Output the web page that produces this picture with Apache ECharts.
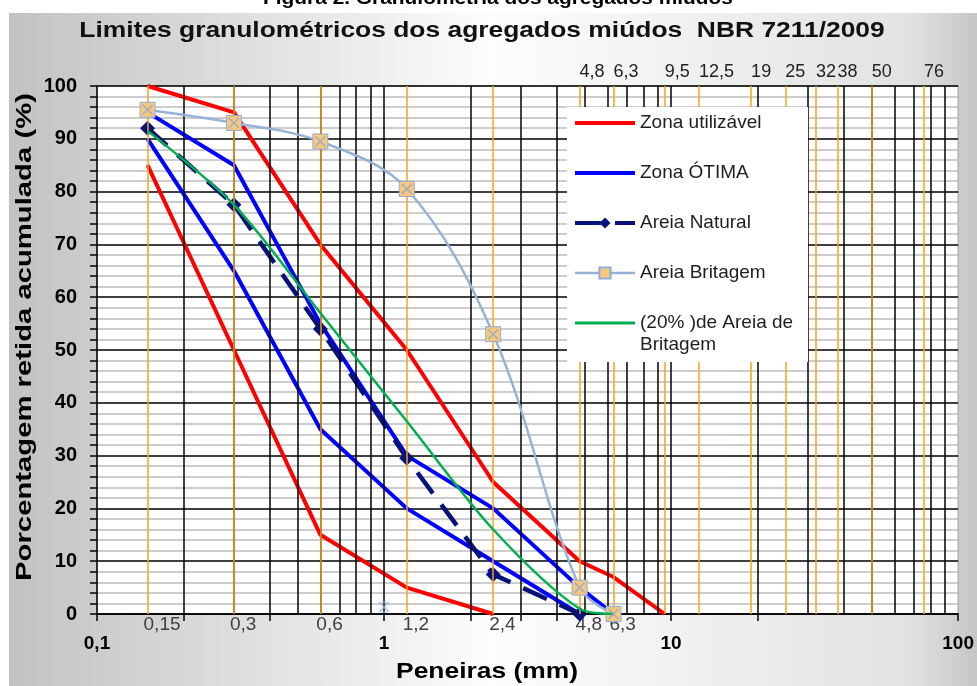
<!DOCTYPE html>
<html lang="pt-BR">
<head>
<meta charset="utf-8">
<title>Limites granulométricos dos agregados miúdos</title>
<script src="https://cdn.jsdelivr.net/npm/echarts@6/dist/echarts.min.js"></script>
<style>
  html, body { margin: 0; padding: 0; background: #fff; }
  #grafico { width: 977px; height: 686px; }
</style>
</head>
<body>
<div id="grafico"></div>
<script>
// Aberturas das peneiras (mm)
const peneiras = [0.15, 0.3, 0.6, 1.2, 2.4, 4.8, 6.3, 9.5];

// Limites da NBR 7211 (% retida acumulada), na ordem das peneiras
const utilInferior = [85, 50, 15, 5, 0];
const utilSuperior = [100, 95, 70, 50, 25, 10, 7, 0];
const otimaInferior = [90, 65, 35, 20, 10, 0];
const otimaSuperior = [95, 85, 55, 30, 20, 5, 0];

// Curvas granulométricas ensaiadas
const areiaNatural = [92, 77.5, 54, 29.5, 7.5, 0];
const areiaBritagem = [95.5, 93, 89.5, 80.5, 53, 5, 0];
const mistura20 = [91.5, 77.5, 57, 36.5, 16, 1, 0];

// Ponto isolado em 1 mm
const pontoAvulsoX = [1];
const pontoAvulsoY = [1.3];

// Linhas verticais da grade logarítmica e das peneiras
const divisoesLog = [0.2, 0.3, 0.4, 0.5, 0.6, 0.7, 0.8, 0.9, 1,
                     2, 3, 4, 5, 6, 7, 8, 9, 10,
                     20, 30, 40, 50, 60, 70, 80, 90];
const linhasPeneiras = [0.15, 0.3, 0.6, 1.2, 2.4, 4.8, 6.3, 9.5, 12.5, 19, 25, 32, 38, 50, 76];

// Rótulos dos eixos
const rotulosDecadas = [0.1, 1, 10, 100];
const rotulosBase = [0.15, 0.3, 0.6, 1.2, 2.4, 4.8, 6.3];
const rotulosTopo = [4.8, 6.3, 9.5, 12.5, 19, 25, 32, 38, 50, 76];
const marcasBase = [0.1, 0.2, 0.4, 1, 2, 3, 4, 10, 20, 100];

// Nomes das séries na legenda
const NOME_UTIL = 'Zona utilizável';
const NOME_OTIMA = 'Zona ÓTIMA';
const NOME_NATURAL = 'Areia Natural';
const NOME_BRITAGEM = 'Areia Britagem';
const NOME_MISTURA = '(20% )de Areia de\nBritagem';

const pares = (xs, ys) => ys.map((y, i) => [xs[i], y]);
const virgula = v => String(v).replace('.', ',');

const FONTE = 'Liberation Sans, Arial, sans-serif';
const VERMELHO = '#ff0000';
const AZUL = '#0000ff';
const MARINHO = '#07127a';
const AZUL_CLARO = '#95b3d7';
const VERDE = '#00b050';
const LARANJA = '#f7a21b';

const chart = echarts.init(document.getElementById('grafico'), null, { renderer: 'canvas' });

const linhaVertical = (valores, cor, largura) => ({
  type: 'line',
  data: [],
  silent: true,
  z: 1,
  markLine: {
    silent: true,
    animation: false,
    symbol: ['none', 'none'],
    label: { show: false },
    emphasis: { disabled: true },
    lineStyle: { color: cor, width: largura, type: 'solid' },
    data: valores.map(v => ({ xAxis: v }))
  }
});

// Texto de cada item da legenda centrado numa linha do meio,
// para que a segunda linha do último item fique abaixo do ícone
const textoLegenda = nome => '\n' + nome + (nome.indexOf('\n') >= 0 ? '' : '\n');

const option = {
  animation: false,
  backgroundColor: '#ffffff',
  graphic: [
    {
      type: 'rect',
      z: -10,
      silent: true,
      shape: { x: 9, y: 13, width: 968, height: 673 },
      style: {
        fill: new echarts.graphic.LinearGradient(0, 0, 1, 0, [
          { offset: 0, color: '#c2c2c2' },
          { offset: 0.5, color: '#fdfdfd' },
          { offset: 0.93, color: '#e2e2e2' },
          { offset: 1, color: '#c6c6c6' }
        ])
      }
    },
    {
      // Caixa branca da legenda
      type: 'rect',
      z: 8,
      silent: true,
      shape: { x: 567, y: 107, width: 241, height: 255 },
      style: { fill: '#ffffff' }
    },
    {
      type: 'text',
      silent: true,
      x: 498, y: -1,
      scaleX: 1.16,
      style: {
        text: 'Figura 2. Granulometria dos agregados miúdos',
        font: 'bold 18px ' + FONTE,
        fill: '#000',
        align: 'center',
        verticalAlign: 'middle'
      }
    },
    {
      type: 'text',
      silent: true,
      x: 482, y: 31,
      scaleX: 1.2,
      style: {
        text: 'Limites granulométricos dos agregados miúdos  NBR 7211/2009',
        font: 'bold 22px ' + FONTE,
        fill: '#111',
        align: 'center',
        verticalAlign: 'middle'
      }
    },
    {
      type: 'text',
      silent: true,
      x: 25, y: 337,
      rotation: Math.PI / 2,
      scaleX: 1.33,
      style: {
        text: 'Porcentagem retida acumulada (%)',
        font: 'bold 22px ' + FONTE,
        fill: '#000',
        align: 'center',
        verticalAlign: 'middle'
      }
    },
    {
      type: 'text',
      silent: true,
      x: 487, y: 672,
      scaleX: 1.2,
      style: {
        text: 'Peneiras (mm)',
        font: 'bold 22px ' + FONTE,
        fill: '#000',
        align: 'center',
        verticalAlign: 'middle'
      }
    }
  ],
  grid: {
    left: 97, right: 15, top: 86, bottom: 72,
    show: true,
    backgroundColor: '#ffffff',
    borderColor: '#9a9a9a',
    borderWidth: 1
  },
  legend: {
    orient: 'vertical',
    left: 573, top: 90,
    padding: 0,
    z: 10,
    itemWidth: 60,
    itemHeight: 14,
    itemGap: -16,
    selectedMode: false,
    formatter: textoLegenda,
    textStyle: { fontFamily: FONTE, fontSize: 19, color: '#1e1e1e', lineHeight: 22 },
    data: [
      { name: NOME_UTIL, itemStyle: { opacity: 0 }, lineStyle: { width: 4 } },
      { name: NOME_OTIMA, itemStyle: { opacity: 0 }, lineStyle: { width: 4 } },
      { name: NOME_NATURAL, lineStyle: { width: 4 } },
      { name: NOME_BRITAGEM, lineStyle: { width: 2.5 } },
      { name: NOME_MISTURA, itemStyle: { opacity: 0 }, lineStyle: { width: 3 } }
    ]
  },
  xAxis: [
    {
      type: 'log', logBase: 10, min: 0.1, max: 100, position: 'bottom',
      axisLine: { show: true, lineStyle: { color: '#000', width: 1.5 } },
      axisTick: { show: true, length: 7, inside: false, customValues: marcasBase,
                  lineStyle: { color: '#000', width: 1.5 } },
      splitLine: { show: false },
      axisLabel: {
        customValues: rotulosDecadas,
        formatter: virgula,
        margin: 20,
        fontFamily: FONTE, fontSize: 19, fontWeight: 'bold', color: '#000'
      }
    },
    {
      type: 'log', logBase: 10, min: 0.1, max: 100, position: 'bottom',
      axisLine: { show: false },
      axisTick: { show: false },
      splitLine: { show: false },
      axisLabel: {
        customValues: rotulosBase,
        formatter: virgula,
        align: 'left',
        padding: [0, 0, 0, -4],
        margin: 1,
        fontFamily: FONTE, fontSize: 19, color: '#404040'
      }
    },
    {
      type: 'log', logBase: 10, min: 0.1, max: 100, position: 'top',
      axisLine: { show: false },
      axisTick: { show: false },
      splitLine: { show: false },
      axisLabel: {
        customValues: rotulosTopo,
        formatter: virgula,
        align: 'left',
        margin: 5,
        fontFamily: FONTE, fontSize: 18, color: '#222'
      }
    }
  ],
  yAxis: {
    type: 'value', min: 0, max: 100, interval: 10,
    axisLine: { show: true, lineStyle: { color: '#000', width: 1.5 } },
    axisTick: { show: true, length: 7, inside: false, lineStyle: { color: '#000', width: 1.5 } },
    minorTick: { show: true, splitNumber: 5, length: 7, lineStyle: { color: '#000', width: 1.5 } },
    splitLine: { show: true, lineStyle: { color: '#000', width: 1.5 } },
    minorSplitLine: { show: true, lineStyle: { color: '#bdbdbd', width: 1.5 } },
    axisLabel: { margin: 20, fontFamily: FONTE, fontSize: 20, fontWeight: 'bold', color: '#000' }
  },
  series: [
    linhaVertical(divisoesLog, '#000000', 1.5),
    linhaVertical(linhasPeneiras, LARANJA, 1.5),
    {
      name: NOME_UTIL, type: 'line', z: 3,
      data: pares(peneiras, utilSuperior),
      symbol: 'none',
      lineStyle: { color: VERMELHO, width: 4 },
      itemStyle: { color: VERMELHO }
    },
    {
      name: NOME_UTIL, type: 'line', z: 3,
      data: pares(peneiras, utilInferior),
      symbol: 'none',
      lineStyle: { color: VERMELHO, width: 4 },
      itemStyle: { color: VERMELHO }
    },
    {
      name: NOME_OTIMA, type: 'line', z: 3,
      data: pares(peneiras, otimaSuperior),
      symbol: 'none',
      lineStyle: { color: AZUL, width: 4 },
      itemStyle: { color: AZUL }
    },
    {
      name: NOME_OTIMA, type: 'line', z: 3,
      data: pares(peneiras, otimaInferior),
      symbol: 'none',
      lineStyle: { color: AZUL, width: 4 },
      itemStyle: { color: AZUL }
    },
    {
      name: NOME_NATURAL, type: 'line', z: 4,
      data: pares(peneiras, areiaNatural),
      symbol: 'diamond', symbolSize: 15,
      lineStyle: { color: MARINHO, width: 4.5, type: [26, 14] },
      itemStyle: { color: MARINHO }
    },
    {
      name: NOME_BRITAGEM, type: 'line', z: 5,
      data: pares(peneiras, areiaBritagem),
      smooth: 0.35,
      symbol: 'rect', symbolSize: 15,
      lineStyle: { color: AZUL_CLARO, width: 2.5 },
      itemStyle: { color: '#f9c77c', borderColor: '#8eaedb', borderWidth: 1 }
    },
    {
      name: 'cruzBritagem', type: 'scatter', z: 6,
      data: pares(peneiras, areiaBritagem),
      symbol: 'path://M0,0L1,1M1,0L0,1', symbolSize: 10,
      silent: true,
      itemStyle: { color: 'none', borderColor: '#86a7d8', borderWidth: 1.5 }
    },
    {
      name: NOME_MISTURA, type: 'line', z: 6,
      data: pares(peneiras, mistura20),
      smooth: 0.3,
      symbol: 'none',
      lineStyle: { color: VERDE, width: 2.5 },
      itemStyle: { color: VERDE }
    },
    {
      name: 'pontoAvulso', type: 'scatter', z: 6,
      data: pares(pontoAvulsoX, pontoAvulsoY),
      symbol: 'path://M0,0L1,1M1,0L0,1M0.25,0L0.75,0M0.25,1L0.75,1', symbolSize: 10,
      silent: true,
      itemStyle: { color: 'none', borderColor: '#9cb6e0', borderWidth: 1.5 }
    }
  ]
};

chart.setOption(option);
</script>
</body>
</html>
